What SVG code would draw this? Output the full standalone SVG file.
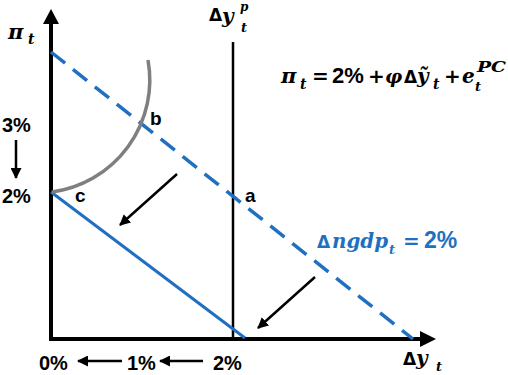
<svg xmlns="http://www.w3.org/2000/svg" width="508" height="375" viewBox="0 0 508 375">
<defs>
<marker id="ah" markerWidth="11" markerHeight="11" refX="10" refY="5.5" orient="auto" markerUnits="userSpaceOnUse">
<path d="M0,0 L11,5.5 L0,11 z" fill="#000"/>
</marker>
<style>
.lab{font-family:"Liberation Sans",Arial,sans-serif;font-weight:bold}
.m{font-family:"DejaVu Serif","Liberation Serif",serif;font-weight:bold;font-style:italic}
.up{font-family:"DejaVu Sans","Liberation Sans",sans-serif;font-weight:bold;font-style:normal}
.blk{stroke:#000;fill:none}
.blue{fill:#1f70c1}
</style>
</defs>
<rect width="508" height="375" fill="#fff"/>
<g id="connectors">
<line class="blk" x1="51" y1="339" x2="51" y2="22" stroke-width="4"/>
<path d="M43,24 L51,9 L59,24 z" fill="#000"/>
<line class="blk" x1="49" y1="339" x2="422" y2="339" stroke-width="4"/>
<path d="M420,331 L436,339 L420,347 z" fill="#000"/>
<line class="blk" x1="233" y1="42" x2="233" y2="339" stroke-width="2.5"/>
<line x1="51" y1="52" x2="413" y2="339" stroke="#1f70c1" stroke-width="3.5" stroke-dasharray="18,10"/>
<line x1="51" y1="192" x2="245" y2="338" stroke="#1f70c1" stroke-width="3"/>
<path d="M52,192 A113,113 0 0 0 148,60" fill="none" stroke="#7f7f7f" stroke-width="3.5"/>
<line class="blk" x1="177" y1="174" x2="120" y2="225" stroke-width="2.5" marker-end="url(#ah)"/>
<line class="blk" x1="315" y1="277" x2="258" y2="328" stroke-width="2.5" marker-end="url(#ah)"/>
<line class="blk" x1="16" y1="140" x2="16" y2="178" stroke-width="2.5" marker-end="url(#ah)"/>
<line class="blk" x1="122" y1="361" x2="78" y2="361" stroke-width="2.5" marker-end="url(#ah)"/>
<line class="blk" x1="203" y1="361" x2="160" y2="361" stroke-width="2.5" marker-end="url(#ah)"/>
</g>
<g id="axis-labels">
<text class="m" x="8" y="39" font-size="21">π</text>
<text class="m" x="28" y="44" font-size="14">t</text>
<text class="up" x="209" y="21" font-size="17">Δ</text>
<text class="m" x="222" y="23" font-size="20">y</text>
<text class="m" x="240" y="11" font-size="12">p</text>
<text class="m" x="241" y="32" font-size="13">t</text>
<text class="up" x="403" y="365" font-size="17">Δ</text>
<text class="m" x="416" y="365" font-size="20">y</text>
<text class="m" x="436" y="371" font-size="13">t</text>
<text class="lab" x="2" y="132" font-size="20">3%</text>
<text class="lab" x="2" y="203" font-size="20">2%</text>
<text class="lab" x="39" y="370" font-size="20">0%</text>
<text class="lab" x="127" y="370" font-size="20">1%</text>
<text class="lab" x="213" y="370" font-size="20">2%</text>
</g>
<g id="point-labels">
<text class="lab" x="150" y="125" font-size="19">b</text>
<text class="lab" x="75" y="202" font-size="19">c</text>
<text class="lab" x="245" y="202" font-size="19">a</text>
</g>
<g id="equation">
<text class="m" x="281" y="83" font-size="21">π</text>
<text class="m" x="300" y="89" font-size="14">t</text>
<text class="up" x="312" y="83" font-size="20">=</text>
<text class="lab" x="332" y="83" font-size="22">2%</text>
<text class="up" x="368" y="83" font-size="20">+</text>
<text class="m" x="385" y="83" font-size="19">φ</text>
<text class="up" x="404" y="83" font-size="17">Δ</text>
<text class="m" x="417" y="83" font-size="20">ỹ</text>
<text class="m" x="433" y="89" font-size="14">t</text>
<text class="up" x="444" y="83" font-size="20">+</text>
<text class="m" x="462" y="83" font-size="20">e</text>
<text class="m" x="475" y="91" font-size="13">t</text>
<text class="m" x="477" y="72" font-size="14" textLength="29" lengthAdjust="spacingAndGlyphs">PC</text>
</g>
<g id="ngdp-label">
<text class="up blue" x="317" y="248" font-size="17">Δ</text>
<text class="m blue" x="332" y="248" font-size="20" textLength="56" lengthAdjust="spacingAndGlyphs">ngdp</text>
<text class="m blue" x="389" y="254" font-size="13">t</text>
<text class="up blue" x="403" y="248" font-size="20">=</text>
<text class="lab blue" x="424" y="248" font-size="23">2%</text>
</g>
</svg>
